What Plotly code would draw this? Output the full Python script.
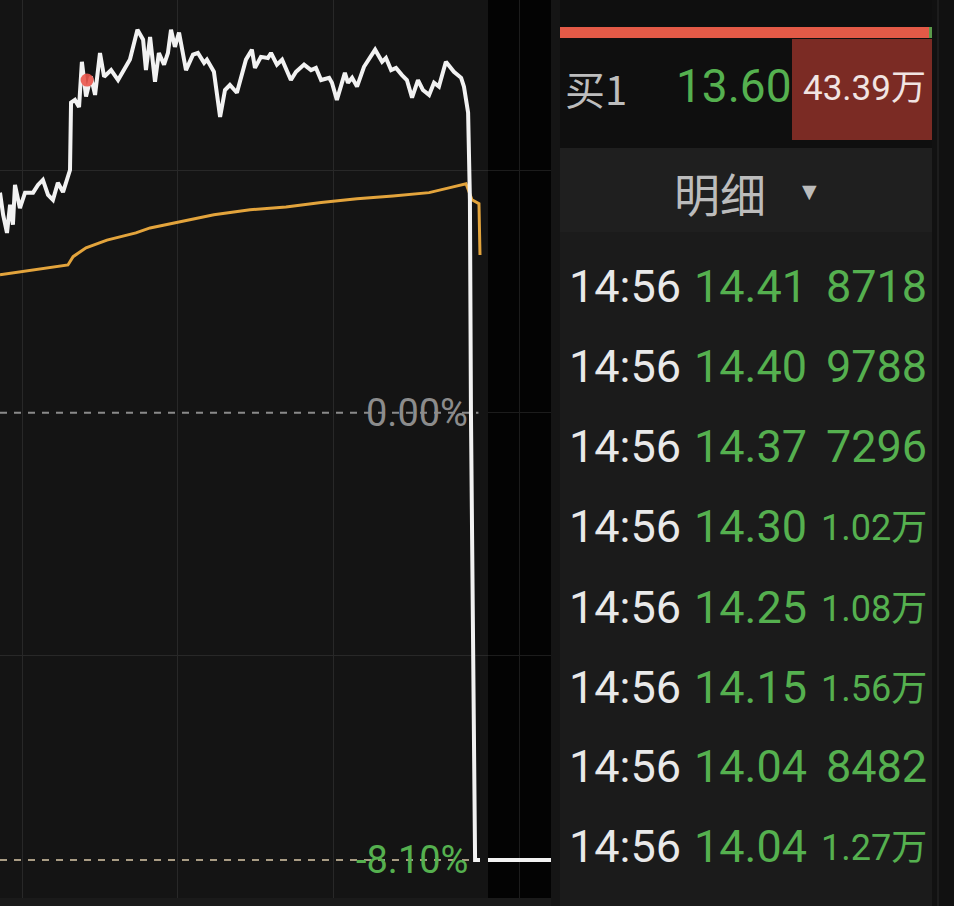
import plotly.graph_objects as go

W, H = 954, 906

# ---------------- data ----------------
# trading minute index since 9:30 (lunch break removed), % change vs previous close
price_min = [51.1, 52.3, 53.8, 55.0, 56.1, 56.9, 58.8, 60.8, 63.9, 65.8, 67.7, 69.7, 71.6, 73.5,
             75.5, 77.4, 78.2, 78.6, 80.1, 81.7, 82.8, 84.4, 86.3, 87.9, 89.8, 91.4, 94.1, 96.8,
             99.5, 101.4, 104.3, 106.5, 107.6, 109.2, 111.1, 112.6, 114.6, 116.1, 117.3, 118.8,
             120.4, 123.1, 125.8, 127.7, 130.1, 131.2, 133.9, 136.3, 138.2, 140.1, 142.8, 146.3,
             148.6, 149.8, 152.1, 154.8, 156.0, 158.3, 160.3, 163.7, 165.7, 168.8, 171.5, 173.4,
             175.4, 178.5, 179.6, 181.5, 184.6, 185.8, 187.4, 189.3, 192.0, 196.3, 199.0, 200.5,
             202.5, 204.4, 206.7, 208.6, 210.6, 212.9, 214.8, 217.2, 219.1, 221.0, 223.7, 226.8,
             229.6, 230.7, 232.3, 233.0, 233.4, 235.0, 236.9]
price_pct = [3.99, 3.59, 3.26, 3.77, 3.41, 4.13, 3.71, 3.99, 3.99, 4.13, 4.22, 3.95, 3.86, 4.17,
             4.00, 4.31, 4.40, 5.62, 5.67, 5.54, 6.36, 5.73, 6.09, 5.76, 6.52, 6.09, 6.21, 6.03,
             6.27, 6.40, 6.94, 6.76, 6.21, 6.81, 6.00, 6.52, 6.31, 6.52, 6.94, 6.63,
             6.89, 6.21, 6.49, 6.52, 6.34, 6.40, 6.18, 5.36, 5.85, 5.94, 5.80, 6.40,
             6.58, 6.25, 6.45, 6.43, 6.52, 6.31, 6.40, 6.03, 6.18, 6.31, 6.21, 6.25,
             6.03, 6.07, 5.98, 5.67, 6.16, 5.98, 6.07, 5.91, 6.27, 6.58, 6.36, 6.43,
             6.21, 6.25, 6.12, 6.03, 5.71, 6.03, 5.85, 5.76, 5.98, 5.91, 6.36, 6.18,
             6.07, 5.91, 5.44, 3.86, 0.00, -8.10, -8.10]

avg_min = [51.1, 65.0, 77.4, 79.4, 84.4, 92.5, 103.7, 109.2, 120.4, 133.9, 147.9, 161.8,
           175.4, 189.3, 203.2, 217.2, 225.3, 231.5, 233.8, 236.1, 236.5, 236.9]
avg_pct = [2.50, 2.59, 2.68, 2.83, 2.99, 3.13, 3.26, 3.35, 3.46, 3.59, 3.68, 3.73,
           3.81, 3.88, 3.93, 3.99, 4.08, 4.15, 3.86, 3.81, 3.79, 2.86]

dot_min = [84.8]
dot_pct = [6.03]

# after-hours fixed-price session (minutes after 15:00)
ah_min = [0, 30]
ah_pct = [-8.10, -8.10]

ref_levels = [0.00, -8.10]
ref_labels = ["0.00%", "-8.10%"]
grid_pct = [-4.4, 4.4]
time_ticks = [60, 120, 180]

buy_label = "买1"
buy_price = "13.60"
buy_vol = "43.39万"
detail_title = "明细"
tick_times = ["14:56", "14:56", "14:56", "14:56", "14:56", "14:56", "14:56", "14:56"]
tick_prices = ["14.41", "14.40", "14.37", "14.30", "14.25", "14.15", "14.04", "14.04"]
tick_vols = ["8718", "9788", "7296", "1.02万", "1.08万", "1.56万", "8482", "1.27万"]

# ---------------- helpers ----------------
def px(x):
    return x / W


def py(y):
    return 1 - y / H


GREEN = "#55b04f"
NUMFONT = "Roboto, Noto Sans CJK SC"
CJK = "Noto Sans CJK SC"

fig = go.Figure()

fig.add_trace(go.Scatter(x=avg_min, y=avg_pct, mode="lines",
                         line=dict(color="#e3a43c", width=3), xaxis="x", yaxis="y",
                         hoverinfo="skip"))
fig.add_trace(go.Scatter(x=price_min, y=price_pct, mode="lines",
                         line=dict(color="#f2f2f2", width=4), xaxis="x", yaxis="y",
                         hoverinfo="skip"))
fig.add_trace(go.Scatter(x=dot_min, y=dot_pct, mode="markers",
                         marker=dict(color="rgba(235,85,75,0.9)", size=13), xaxis="x", yaxis="y",
                         hoverinfo="skip"))
fig.add_trace(go.Scatter(x=ah_min, y=ah_pct, mode="lines",
                         line=dict(color="#f2f2f2", width=4), xaxis="x2", yaxis="y2",
                         hoverinfo="skip"))

ydom = [8 / H, 1]
yrange = [-8.79, 7.48]
fig.update_layout(
    width=W, height=H, margin=dict(l=0, r=0, t=0, b=0),
    paper_bgcolor="#101010", plot_bgcolor="rgba(0,0,0,0)", showlegend=False,
    xaxis=dict(domain=[0, px(488)], range=[51.1, 240], tickvals=time_ticks,
               showticklabels=False, showgrid=True, gridcolor="#282828", gridwidth=1,
               zeroline=False, showline=False, fixedrange=True),
    yaxis=dict(domain=ydom, range=yrange, tickvals=grid_pct, showticklabels=False,
               showgrid=True, gridcolor="#282828", gridwidth=1, zeroline=False,
               showline=False, fixedrange=True),
    xaxis2=dict(domain=[px(488), px(551)], range=[0, 30], tickvals=[15], anchor="y2",
                showticklabels=False, showgrid=True, gridcolor="#1c1c1c", zeroline=False,
                showline=False, fixedrange=True),
    yaxis2=dict(domain=ydom, range=yrange, tickvals=[-4.4, 0, 4.4], anchor="x2",
                showticklabels=False, showgrid=True, gridcolor="#1c1c1c", zeroline=False,
                showline=False, fixedrange=True),
)

shapes = []


def rect(x0, y0, x1, y1, color):
    shapes.append(dict(type="rect", xref="paper", yref="paper", x0=px(x0), x1=px(x1),
                       y0=py(y1), y1=py(y0), fillcolor=color, line=dict(width=0),
                       layer="below"))


# backgrounds
rect(0, 0, 488, 898, "#141414")
rect(488, 0, 551, 898, "#030303")
rect(0, 898, 551, 906, "#1a1a1a")
rect(551, 0, 560, 906, "#151515")
rect(560, 0, 932, 148, "#0f0f0f")
rect(560, 27, 930, 38, "#e35a47")
rect(929, 27, 932, 38, "#5a9a4a")
rect(792, 39, 932, 140, "#7b2b24")
rect(560, 148, 932, 232, "#1f1f1f")
rect(560, 232, 932, 906, "#1b1b1b")
rect(932, 0, 954, 906, "#111111")
rect(937, 0, 939, 906, "#1d1d1d")

# reference dashed lines
ref_colors = ["#8a8a8a", "#a99c84"]
for lvl, col in zip(ref_levels, ref_colors):
    shapes.append(dict(type="line", xref="x", yref="y", x0=51.1, x1=236.3, y0=lvl, y1=lvl,
                       line=dict(color=col, width=2, dash="7px,7px"), layer="below"))

fig.update_layout(shapes=shapes)

ann = []
# axis reference labels
ref_text_colors = ["#8c8c8c", GREEN]
for lvl, lab, col in zip(ref_levels, ref_labels, ref_text_colors):
    ann.append(dict(x=px(470), y=lvl, xref="paper", yref="y", text=lab, showarrow=False,
                    xanchor="right", yanchor="middle",
                    font=dict(family=NUMFONT, size=38, color=col)))

# buy 1 row
ann.append(dict(x=px(563), y=py(88), xref="paper", yref="paper", text=buy_label, showarrow=False,
                xanchor="left", yanchor="middle", font=dict(family=CJK, size=40, color="#bdbdbd")))
ann.append(dict(x=px(674), y=py(86), xref="paper", yref="paper", text=buy_price, showarrow=False,
                xanchor="left", yanchor="middle",
                font=dict(family=NUMFONT, size=46, color=GREEN)))
ann.append(dict(x=px(928), y=py(88), xref="paper", yref="paper", text=buy_vol, showarrow=False,
                xanchor="right", yanchor="middle",
                font=dict(family=NUMFONT, size=35, color="#f1e4e2")))

# detail header
ann.append(dict(x=px(720), y=py(192), xref="paper", yref="paper", text=detail_title, showarrow=False,
                xanchor="center", yanchor="middle", font=dict(family=CJK, size=46, color="#bcbcbc")))
ann.append(dict(x=px(809), y=py(191), xref="paper", yref="paper", text="▼", showarrow=False,
                xanchor="center", yanchor="middle",
                font=dict(family="DejaVu Sans", size=19, color="#bcbcbc")))

# trade ticks
row_y = [286, 366, 446, 526, 607, 687, 766, 846]
for yy, t, p, v in zip(row_y, tick_times, tick_prices, tick_vols):
    ann.append(dict(x=px(567), y=py(yy), xref="paper", yref="paper", text=t, showarrow=False,
                    xanchor="left", yanchor="middle",
                    font=dict(family=NUMFONT, size=45, color="#e9e9e9")))
    ann.append(dict(x=px(692), y=py(yy), xref="paper", yref="paper", text=p, showarrow=False,
                    xanchor="left", yanchor="middle",
                    font=dict(family=NUMFONT, size=45, color=GREEN)))
    small = "万" in v
    ann.append(dict(x=px(929), y=py(yy + (2 if small else 0)), xref="paper", yref="paper", text=v,
                    showarrow=False, xanchor="right", yanchor="middle",
                    font=dict(family=NUMFONT, size=36 if small else 45, color=GREEN)))

fig.update_layout(annotations=ann)

fig.write_html(
    "out.html",
    config={"displayModeBar": False, "staticPlot": True},
    post_script="document.body.style.margin='0';document.body.style.overflow='hidden';"
                "document.body.style.background='#101010';",
)
